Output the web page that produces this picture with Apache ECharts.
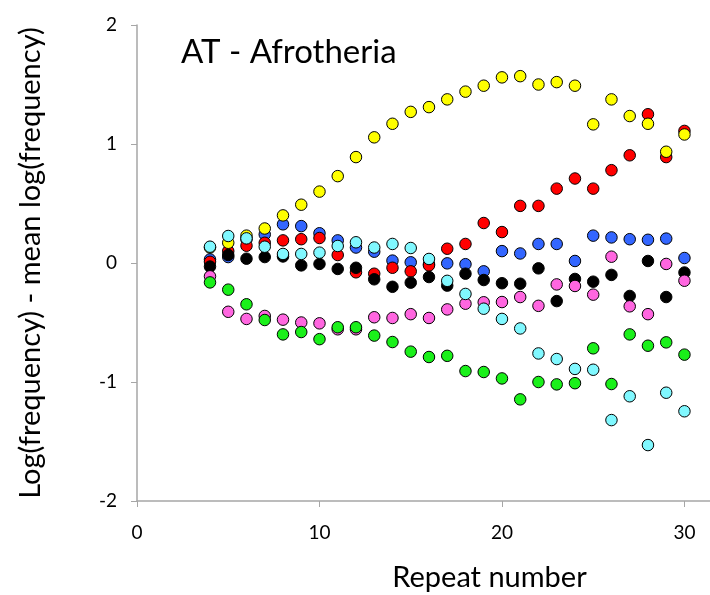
<!DOCTYPE html>
<html>
<head>
<meta charset="utf-8">
<script src="https://cdn.jsdelivr.net/npm/echarts@6/dist/echarts.min.js"></script>
<style>
  html, body { margin: 0; padding: 0; background: #fff; }
  #chart { width: 710px; height: 595px; }
</style>
</head>
<body>
<div id="chart"></div>
<script>
// Repeat numbers shared by every series
const repeats = [4, 5, 6, 7, 8, 9, 10, 11, 12, 13, 14, 15, 16, 17, 18, 19, 20, 21, 22, 23, 24, 25, 26, 27, 28, 29, 30];

// Log(frequency) minus mean log(frequency), one list per group
const blueVals = [0.03, 0.05, 0.20, 0.24, 0.325, 0.31, 0.25, 0.19, 0.13, 0.095, 0.02, 0.006, -0.01, -0.003, -0.01, -0.07, 0.10, 0.08, 0.16, 0.16, 0.017, 0.23, 0.215, 0.20, 0.195, 0.205, 0.042];
const redVals = [0.01, 0.10, 0.145, 0.17, 0.19, 0.20, 0.21, 0.067, -0.078, -0.09, -0.04, -0.07, -0.02, 0.12, 0.16, 0.336, 0.26, 0.48, 0.48, 0.625, 0.71, 0.625, 0.78, 0.905, 1.25, 0.89, 1.11];
const blackVals = [-0.03, 0.067, 0.036, 0.05, 0.055, -0.02, -0.008, -0.05, -0.04, -0.137, -0.20, -0.165, -0.118, -0.19, -0.09, -0.143, -0.17, -0.174, -0.045, -0.32, -0.134, -0.157, -0.10, -0.277, 0.017, -0.286, -0.08];
const pinkVals = [-0.112, -0.41, -0.47, -0.445, -0.476, -0.50, -0.507, -0.557, -0.557, -0.456, -0.462, -0.43, -0.462, -0.39, -0.342, -0.33, -0.328, -0.286, -0.36, -0.18, -0.193, -0.266, 0.053, -0.364, -0.43, -0.008, -0.149];
const greenVals = [-0.163, -0.224, -0.347, -0.479, -0.60, -0.58, -0.64, -0.54, -0.54, -0.61, -0.664, -0.745, -0.79, -0.78, -0.908, -0.916, -0.97, -1.146, -1.0, -1.02, -1.01, -0.717, -1.017, -0.60, -0.695, -0.667, -0.77];
const yellowVals = [0.13, 0.17, 0.23, 0.29, 0.40, 0.49, 0.60, 0.73, 0.89, 1.056, 1.17, 1.27, 1.31, 1.375, 1.44, 1.49, 1.56, 1.57, 1.50, 1.52, 1.49, 1.165, 1.375, 1.235, 1.17, 0.935, 1.08];
const cyanVals = [0.137, 0.227, 0.207, 0.137, 0.076, 0.076, 0.087, 0.143, 0.174, 0.13, 0.16, 0.126, 0.034, -0.15, -0.26, -0.384, -0.47, -0.55, -0.76, -0.807, -0.89, -0.897, -1.32, -1.12, -1.53, -1.09, -1.246];

// Tick labels
const xTicks = [0, 10, 20, 30];
const yTicks = [-2, -1, 0, 1, 2];

// Drawing order: later groups sit on top
const groups = [
  { name: 'blue', color: '#3366FF', values: blueVals },
  { name: 'red', color: '#FF0000', values: redVals },
  { name: 'black', color: '#000000', values: blackVals },
  { name: 'pink', color: '#FF66E0', values: pinkVals },
  { name: 'green', color: '#1AF01A', values: greenVals },
  { name: 'yellow', color: '#FFFF00', values: yellowVals },
  { name: 'cyan', color: '#80F8FF', values: cyanVals }
];

const font = 'Lato, "Open Sans", sans-serif';
const axisColor = '#A6A6A6';

const chart = echarts.init(document.getElementById('chart'), null, { renderer: 'canvas' });
chart.setOption({
  animation: false,
  backgroundColor: '#ffffff',
  title: {
    text: 'AT - Afrotheria',
    left: 176,
    top: 31,
    textStyle: { fontFamily: font, fontSize: 33, fontWeight: 'normal', color: '#000' }
  },
  grid: { left: 137, top: 25, right: 0, bottom: 94, containLabel: false, outerBoundsMode: 'none' },
  xAxis: {
    type: 'value',
    min: 0,
    max: 31.4,
    interval: 10,
    name: 'Repeat number',
    nameLocation: 'middle',
    nameGap: 62,
    nameTextStyle: { fontFamily: font, fontSize: 29, color: '#000', padding: [0, 0, 0, 132] },
    axisLine: { onZero: false, lineStyle: { color: axisColor, width: 1.5 } },
    axisTick: { show: true, length: 6, lineStyle: { color: axisColor } },
    axisLabel: {
      margin: 22,
      fontFamily: font, fontSize: 19, color: '#000',
      formatter: v => (xTicks.indexOf(v) >= 0 ? String(v) : '')
    },
    splitLine: { show: false }
  },
  yAxis: {
    type: 'value',
    min: -2,
    max: 2,
    interval: 1,
    name: 'Log(frequency) - mean log(frequency)',
    nameLocation: 'middle',
    nameRotate: 90,
    nameGap: 92,
    nameTextStyle: { fontFamily: font, fontSize: 29, color: '#000' },
    axisLine: { show: true, onZero: false, lineStyle: { color: axisColor, width: 1.5 } },
    axisTick: { show: true, length: 6, lineStyle: { color: axisColor } },
    axisLabel: {
      margin: 20,
      fontFamily: font, fontSize: 19, color: '#000',
      formatter: v => (yTicks.indexOf(v) >= 0 ? String(v) : '')
    },
    splitLine: { show: false }
  },
  series: groups.map(g => ({
    name: g.name,
    type: 'scatter',
    symbol: 'circle',
    symbolSize: 11.5,
    itemStyle: { color: g.color, borderColor: '#000', borderWidth: 1, opacity: 1 },
    data: repeats.map((r, i) => [r, g.values[i]])
  }))
});
</script>
</body>
</html>
